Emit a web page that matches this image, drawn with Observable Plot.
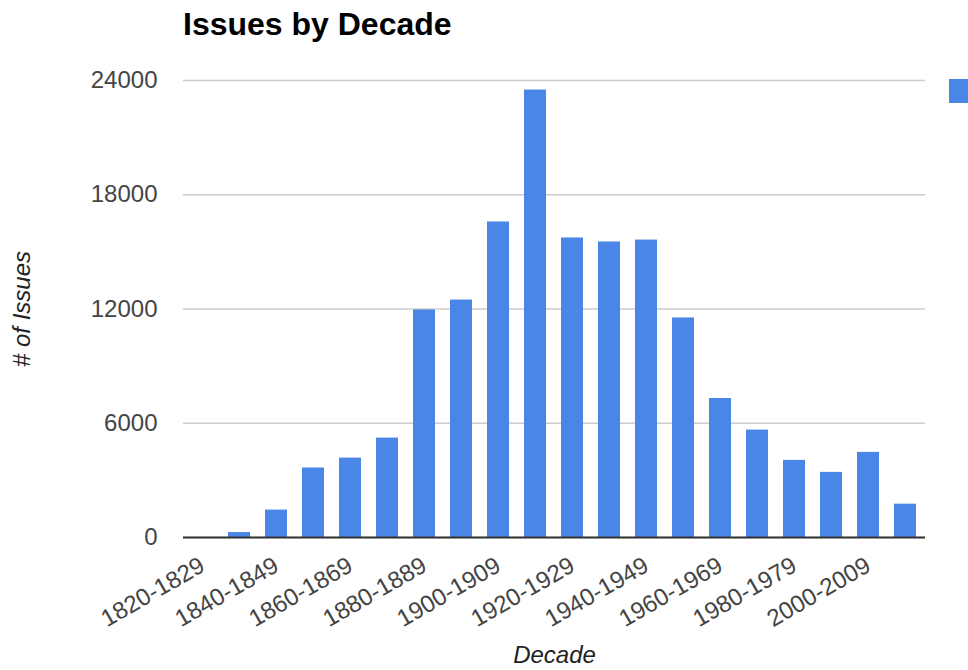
<!DOCTYPE html>
<html><head><meta charset="utf-8">
<script src="https://cdn.jsdelivr.net/npm/d3@7"></script>
<script src="https://cdn.jsdelivr.net/npm/@observablehq/plot@0.6"></script>
<style>
body{margin:0;background:#fff;font-family:"Liberation Sans",Arial,sans-serif;}
#wrap{position:relative;width:968px;height:670px;overflow:hidden;}
#title{position:absolute;left:183px;top:6px;font-size:32px;font-weight:bold;color:#000;white-space:nowrap;}
#chart{position:absolute;left:0;top:50px;}
#legend{position:absolute;left:949px;top:79px;width:24px;height:24px;background:#4a86e8;}
</style></head>
<body><div id="wrap"><div id="title">Issues by Decade</div><div id="chart"></div><div id="legend"></div></div>
<script>
const decades = ["1820-1829","1830-1839","1840-1849","1850-1859","1860-1869","1870-1879","1880-1889","1890-1899","1900-1909","1910-1919","1920-1929","1930-1939","1940-1949","1950-1959","1960-1969","1970-1979","1980-1979","1990-1999","2000-2009","2010-2019"];
const issues = [0,260,1440,3650,4170,5220,11950,12470,16570,23500,15730,15520,15620,11530,7300,5640,4050,3420,4470,1750];
const yTicks = [0,6000,12000,18000,24000];
const xTickLabels = decades.filter((d,i)=>i%2===0);
const barColor = "#4a86e8";
const data = decades.map((d,i)=>({decade:d, issues:issues[i]}));
const chart = Plot.plot({
  width:968, height:620,
  marginLeft:183, marginRight:43, marginTop:30, marginBottom:133,
  style:{fontFamily:"Liberation Sans, Arial, sans-serif", fontSize:"24px", color:"#444", background:"#fff", overflow:"visible"},
  x:{domain:decades, paddingInner:0.4, paddingOuter:0.22},
  y:{domain:[0,24000]},
  marks:[
    Plot.gridY(yTicks, {stroke:"#cccccc", strokeOpacity:1, strokeWidth:1.5}),
    Plot.barY(data, {x:"decade", y:"issues", fill:barColor}),
    Plot.ruleY([0], {stroke:"#333", strokeWidth:2}),
    Plot.axisY(yTicks, {tickSize:0, tickPadding:26, label:null, fontSize:24, fill:"#444", tickFormat:d3.format("d")}),
    Plot.axisX(xTickLabels, {tickSize:0, tickPadding:26, tickRotate:-30, label:null, fontSize:24, fill:"#444"}),
    Plot.text(["# of Issues"], {frameAnchor:"left", dx:-161, rotate:-90, textAnchor:"middle", lineAnchor:"middle", fontStyle:"italic", fontSize:24, fill:"#222"}),
    Plot.text(["Decade"], {frameAnchor:"bottom", dy:118, textAnchor:"middle", lineAnchor:"middle", fontStyle:"italic", fontSize:24, fill:"#222"})
  ]
});
document.getElementById("chart").appendChild(chart);
</script>
</body></html>
